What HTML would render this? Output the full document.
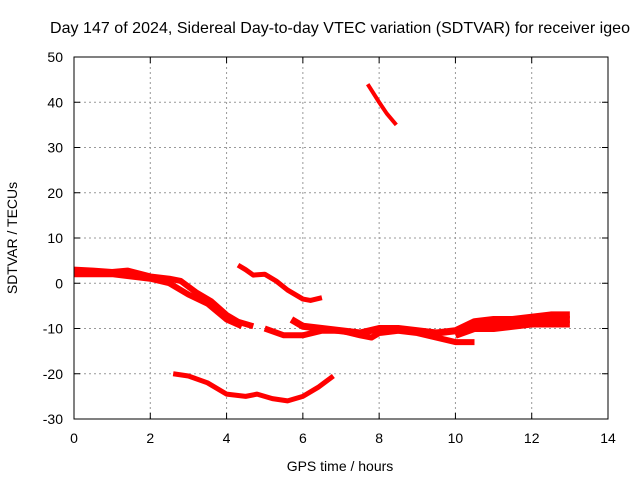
<!DOCTYPE html>
<html><head><meta charset="utf-8"><style>
body{margin:0;background:#fff}
svg text{font-family:"Liberation Sans",sans-serif;font-size:14px;fill:#000}
</style></head><body>
<svg id="c" width="640" height="480">
<rect width="640" height="480" fill="#fff"/>
<g id="grid"></g>
<g id="series"></g>
<rect x="74" y="57" width="534" height="362" fill="none" stroke="#000" stroke-width="1"/>
<g id="ticks"></g>
<text x="340" y="33" text-anchor="middle" style="font-size:16px" textLength="580">Day 147 of 2024, Sidereal Day-to-day VTEC variation (SDTVAR) for receiver igeo</text>
<text x="340" y="471" text-anchor="middle">GPS time / hours</text>
<text transform="translate(17,238) rotate(-90)" text-anchor="middle">SDTVAR / TECUs</text>
</svg>
<script>
const xTicks=[0,2,4,6,8,10,12,14];
const yTicks=[-30,-20,-10,0,10,20,30,40,50];
const seriesMain=[[0,3],[0.5,2.8],[1,2.5],[1.4,2.8],[2,1.5],[2.5,1],[2.8,0.5],[3.2,-2],[3.6,-4],[4,-7],[4.3,-8.5],[4.7,-9.5]];
const seriesMain2=[[0,2],[1,2],[2,1],[2.5,0],[3,-2.5],[3.5,-4.5],[4,-8],[4.4,-9.5]];
const seriesB=[[4.3,4],[4.5,3],[4.7,1.8],[5,2],[5.3,0.5],[5.6,-1.5],[6,-3.5],[6.2,-3.8],[6.5,-3.2]];
const seriesC=[[5.7,-8],[6,-9.5],[6.5,-10],[7,-10.5],[7.5,-11],[8,-10],[8.5,-10],[9,-10.5],[9.5,-11],[10,-10.5],[10.5,-8.5],[11,-8],[11.5,-8],[12,-7.5],[12.5,-7],[13,-7]];
const seriesC2=[[5,-10],[5.5,-11.5],[6,-11.5],[6.5,-10.5],[7,-10.5],[7.5,-11.5],[7.8,-12],[8,-11],[8.5,-10.5],[9,-11],[9.5,-12],[10,-13],[10.5,-13]];
const seriesC3=[[10,-11.5],[10.5,-10],[11,-10],[11.5,-9.5],[12,-9],[12.5,-9],[13,-9]];
const seriesC4=[[10.3,-9.5],[11,-9],[11.5,-8.5],[12,-8],[12.5,-8],[13,-8]];
const seriesD=[[2.6,-20],[3,-20.5],[3.5,-22],[4,-24.5],[4.5,-25],[4.8,-24.5],[5.2,-25.5],[5.6,-26],[6,-25],[6.4,-23],[6.8,-20.5]];
const seriesE=[[7.7,44],[8,40],[8.2,37.5],[8.45,35]];
const allSeries=[[seriesMain,6],[seriesMain2,6],[seriesB,5],[seriesC,7],[seriesC2,6],[seriesC3,7],[seriesC4,7],[seriesD,5],[seriesE,4]];
const X=v=>74+v*534/14, Y=v=>419-(v+30)*362/80;
const NS="http://www.w3.org/2000/svg";
function mk(t,a,p){const e=document.createElementNS(NS,t);for(const k in a)e.setAttribute(k,a[k]);p.appendChild(e);return e;}
const g=document.getElementById('grid'),tk=document.getElementById('ticks'),sg=document.getElementById('series');
xTicks.forEach(v=>{
 if(v>0&&v<14){const l=mk('line',{x1:X(v),x2:X(v),y1:57,y2:419,stroke:'#999','stroke-dasharray':'2,3'},g);
 
 }
 mk('line',{x1:X(v),x2:X(v),y1:419,y2:413,stroke:'#000'},tk);
 mk('line',{x1:X(v),x2:X(v),y1:57,y2:63,stroke:'#000'},tk);
 const t=mk('text',{x:X(v),y:443,'text-anchor':'middle'},tk);t.textContent=v;
 
 
});
yTicks.forEach(v=>{
 if(v>-30&&v<50){const l=mk('line',{x1:74,x2:608,y1:Y(v),y2:Y(v),stroke:'#999','stroke-dasharray':'2,3'},g);
 
 }
 mk('line',{x1:74,x2:80,y1:Y(v),y2:Y(v),stroke:'#000'},tk);
 mk('line',{x1:608,x2:602,y1:Y(v),y2:Y(v),stroke:'#000'},tk);
 const t=mk('text',{x:63,y:Y(v)+5,'text-anchor':'end'},tk);t.textContent=v;
 
 
});
allSeries.forEach(([s,w])=>{
 const p=mk('polyline',{points:s.map(d=>X(d[0])+','+Y(d[1])).join(' '),fill:'none',stroke:'#f00','stroke-width':w,'stroke-linejoin':'round'},sg);
 
 
});
</script>
</body></html>
